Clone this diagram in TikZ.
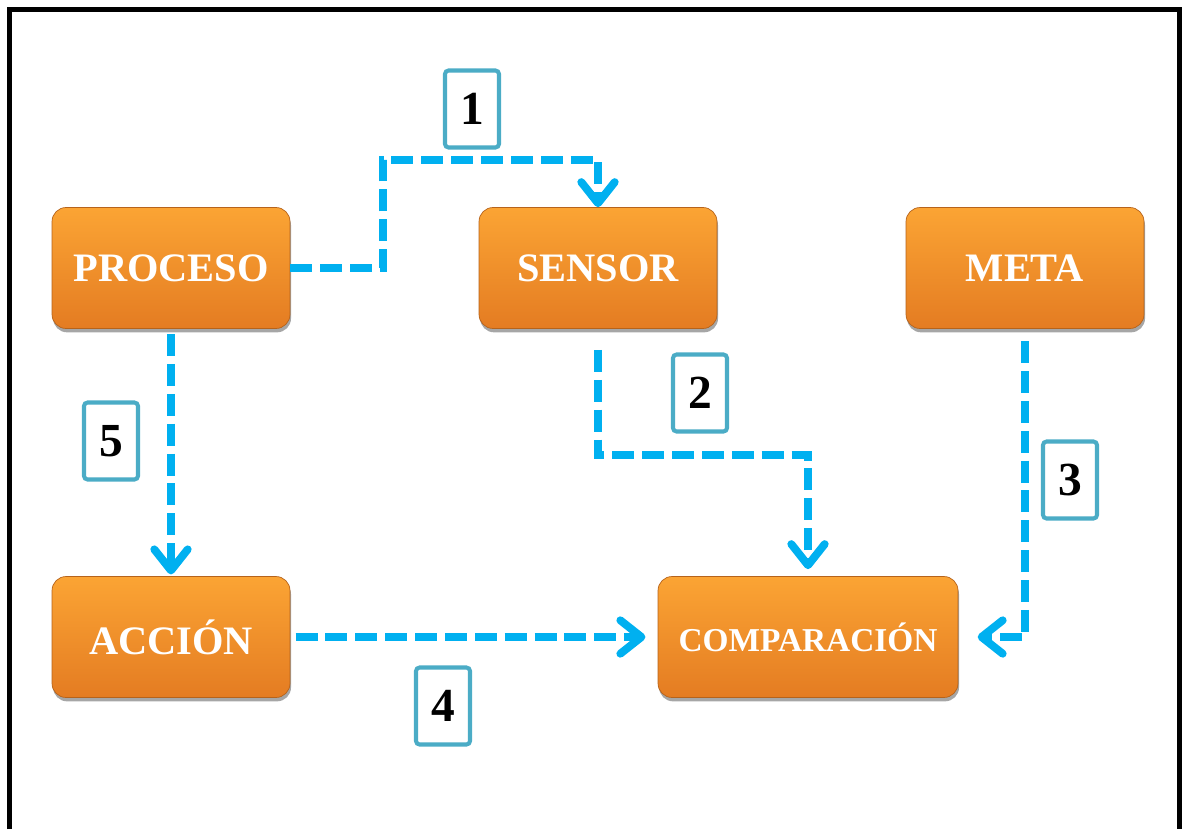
\documentclass[tikz,border=0pt]{standalone}
\usepackage{fontspec}
\setmainfont{Liberation Serif}
\usetikzlibrary{arrows.meta,shadows}
\definecolor{boxtop}{RGB}{251,164,52}
\definecolor{boxbottom}{RGB}{228,124,34}
\definecolor{flow}{RGB}{0,176,240}
\definecolor{tag}{RGB}{75,172,198}
\tikzset{
	stage/.style={rounded corners=8pt, top color=boxtop, bottom color=boxbottom, draw=boxbottom!80!black, line width=0.4pt,
		minimum width=4.76cm, minimum height=2.42cm, text=white, font=\fontsize{23}{23}\selectfont\bfseries,
		drop shadow={shadow xshift=0.6pt, shadow yshift=-2.2pt, opacity=0.35, fill=black}},
	flowline/.style={flow, line width=4.5pt, dash pattern=on 12.5pt off 4.5pt,
		-{Straight Barb[round, length=12pt, width=19pt, line width=4.5pt]}},
	steptag/.style={draw=tag, line width=2.3pt, rounded corners=2pt, fill=white,
		minimum width=1.08cm, minimum height=1.54cm, inner sep=0pt, font=\fontsize{27}{27}\selectfont\bfseries}
}
\begin{document}
\begin{tikzpicture}[x=0.02cm, y=-0.02cm]
	\useasboundingbox (0,0) rectangle (1183,829);
	\draw[line width=2.3pt, line join=miter] (9.5,829) -- (9.5,9.5) -- (1179.5,9.5) -- (1179.5,829);
	\node[stage] (proceso) at (171,268) {PROCESO};
	\node[stage] (sensor) at (598,268) {SENSOR};
	\node[stage] (meta) at (1025,268) {META};
	\node[stage] (accion) at (171,637) {ACCIÓN};
	\node[stage, minimum width=6cm, font=\fontsize{19}{19}\selectfont\bfseries] (comparacion) at (808,637) {COMPARACIÓN};
	\coordinate (bend1) at (383,160);
	\coordinate (bend2) at (808,455);
	\draw[flowline] (proceso.east) -| (bend1) -| (sensor.north);
	\draw[flowline, shorten <=12pt, shorten >=4pt] (sensor.south) |- (bend2) -- (comparacion.north);
	\draw[flowline, shorten <=7pt, shorten >=11pt] (meta.south) |- (comparacion.east);
	\draw[flowline, shorten <=3pt, shorten >=7pt] (accion.east) -- (comparacion.west);
	\draw[flowline, shorten <=3pt, shorten >=1pt] (proceso.south) -- (accion.north);
	\node[steptag] (tag1) at (472,109) {1};
	\node[steptag] (tag2) at (700,393) {2};
	\node[steptag] (tag3) at (1070,480) {3};
	\node[steptag] (tag4) at (443,706) {4};
	\node[steptag] (tag5) at (111,441) {5};
\end{tikzpicture}
\end{document}
